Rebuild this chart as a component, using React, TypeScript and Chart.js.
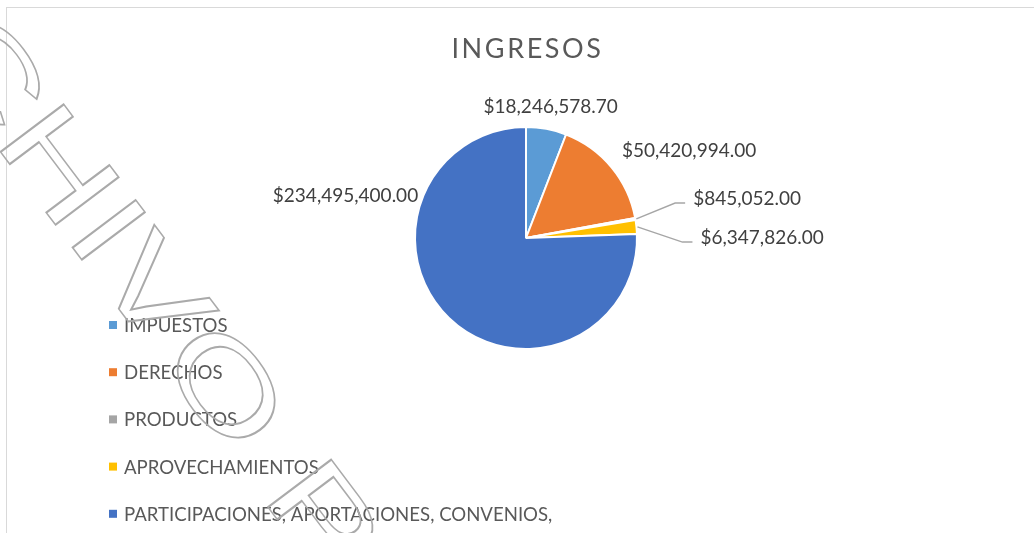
import React, { useEffect, useRef } from "react";
import { Chart, registerables } from "chart.js";

Chart.register(...registerables);

// ---- data ----
const chartTitle = "INGRESOS";
const categories = [
  "IMPUESTOS",
  "DERECHOS",
  "PRODUCTOS",
  "APROVECHAMIENTOS",
  "PARTICIPACIONES, APORTACIONES, CONVENIOS,",
];
const amounts = [18246578.7, 50420994.0, 845052.0, 6347826.0, 234495400.0];
const sliceColors = ["#5B9BD5", "#ED7D31", "#A5A5A5", "#FFC000", "#4472C4"];
const watermarkText = "ARCHIVO PÚBLICO";

// ---- label placement (angle from 12 o'clock clockwise, distance in radii) ----
type Placement = { angle: number | null; dist: number; align: "left" | "right" | "center"; leader: boolean };
const labelPlacement: Placement[] = [
  { angle: null, dist: 1.21, align: "center", leader: false },
  { angle: 47.6, dist: 1.17, align: "left", leader: false },
  { angle: 76.8, dist: 1.38, align: "left", leader: true },
  { angle: 91.5, dist: 1.41, align: "left", leader: true },
  { angle: 291.6, dist: 1.045, align: "right", leader: false },
];

const FONT = "Lato, 'Open Sans', sans-serif";

const fmt = (v: number) =>
  "$" + v.toLocaleString("en-US", { minimumFractionDigits: 2, maximumFractionDigits: 2 });

const framePlugin = {
  id: "frame",
  beforeDraw(chart: any) {
    const ctx = chart.ctx;
    ctx.save();
    ctx.fillStyle = "#ffffff";
    ctx.fillRect(0, 0, chart.width, chart.height);
    ctx.strokeStyle = "#d9d9d9";
    ctx.lineWidth = 1;
    ctx.strokeRect(6.5, 7.5, chart.width + 20, chart.height + 20);
    // title
    ctx.fillStyle = "#595959";
    ctx.font = `27px ${FONT}`;
    (ctx as any).letterSpacing = "2.6px";
    ctx.textAlign = "center";
    ctx.textBaseline = "alphabetic";
    const ca = chart.chartArea;
    ctx.fillText(chartTitle, (ca.left + ca.right) / 2 + 1.5, 57.5);
    ctx.restore();
  },
};

const valueLabelPlugin = {
  id: "valueLabels",
  afterDatasetsDraw(chart: any) {
    const ctx = chart.ctx;
    const meta = chart.getDatasetMeta(0);
    ctx.save();
    ctx.font = `19px ${FONT}`;
    ctx.textBaseline = "alphabetic";
    meta.data.forEach((el: any, i: number) => {
      const { x, y, startAngle, endAngle, outerRadius } = el.getProps(
        ["x", "y", "startAngle", "endAngle", "outerRadius"],
        true
      );
      const r = outerRadius;
      const p = labelPlacement[i];
      const mid = (startAngle + endAngle) / 2;
      const a = p.angle === null ? mid : ((p.angle - 90) * Math.PI) / 180;
      const ax = x + Math.cos(a) * p.dist * r;
      const ay = y + Math.sin(a) * p.dist * r;
      const text = fmt(chart.data.datasets[0].data[i]);
      if (p.leader) {
        ctx.strokeStyle = "#a6a6a6";
        ctx.lineWidth = 1.5;
        ctx.beginPath();
        ctx.moveTo(x + Math.cos(mid) * (r + 1), y + Math.sin(mid) * (r + 1));
        ctx.lineTo(ax, ay);
        ctx.lineTo(ax + 10, ay);
        ctx.stroke();
        ctx.fillStyle = "#404040";
        ctx.textAlign = "left";
        ctx.fillText(text, ax + 18, ay + 2);
      } else {
        ctx.fillStyle = "#404040";
        ctx.textAlign = p.align;
        ctx.fillText(text, ax, ay + 7);
      }
    });
    ctx.restore();
  },
};

const legendPlugin = {
  id: "sideLegend",
  afterDraw(chart: any) {
    const ctx = chart.ctx;
    ctx.save();
    ctx.font = `18.6px ${FONT}`;
    ctx.textBaseline = "alphabetic";
    ctx.textAlign = "left";
    const labels: string[] = chart.data.labels;
    const bg: string[] = chart.data.datasets[0].backgroundColor;
    labels.forEach((lab, i) => {
      const cy = 325 + i * 47.2;
      ctx.fillStyle = bg[i];
      ctx.fillRect(109, cy - 4, 8, 8);
      ctx.fillStyle = "#595959";
      ctx.fillText(lab, 124, cy + 7);
    });
    ctx.restore();
  },
};

const watermarkPlugin = {
  id: "watermark",
  afterDraw(chart: any) {
    const ctx = chart.ctx;
    ctx.save();
    ctx.translate(-215, -134);
    ctx.rotate((53 * Math.PI) / 180);
    ctx.scale(1.42, 1);
    ctx.font = "115px 'Liberation Sans', Arial, sans-serif";
    ctx.strokeStyle = "#aaaaaa";
    ctx.lineWidth = 1.5;
    ctx.lineJoin = "miter";
    ctx.strokeText(watermarkText, 0, 0);
    ctx.restore();
  },
};

export default function App() {
  const ref = useRef<HTMLCanvasElement>(null);
  useEffect(() => {
    if (!ref.current) return;
    const chart = new Chart(ref.current, {
      type: "pie",
      data: {
        labels: categories,
        datasets: [
          {
            data: amounts,
            backgroundColor: sliceColors,
            borderColor: "#ffffff",
            borderWidth: 2,
          },
        ],
      },
      options: {
        responsive: false,
        animation: false,
        events: [],
        layout: { padding: { left: 414, right: 396, top: 126, bottom: 183 } },
        plugins: {
          legend: { display: false },
          title: { display: false },
          tooltip: { enabled: false },
        },
      },
      plugins: [framePlugin, valueLabelPlugin, legendPlugin, watermarkPlugin],
    });
    return () => chart.destroy();
  }, []);
  return (
    <div style={{ position: "fixed", left: 0, top: 0, width: 1034, height: 533, background: "#fff" }}>
      <canvas ref={ref} width={1034} height={533} style={{ display: "block" }} />
    </div>
  );
}
